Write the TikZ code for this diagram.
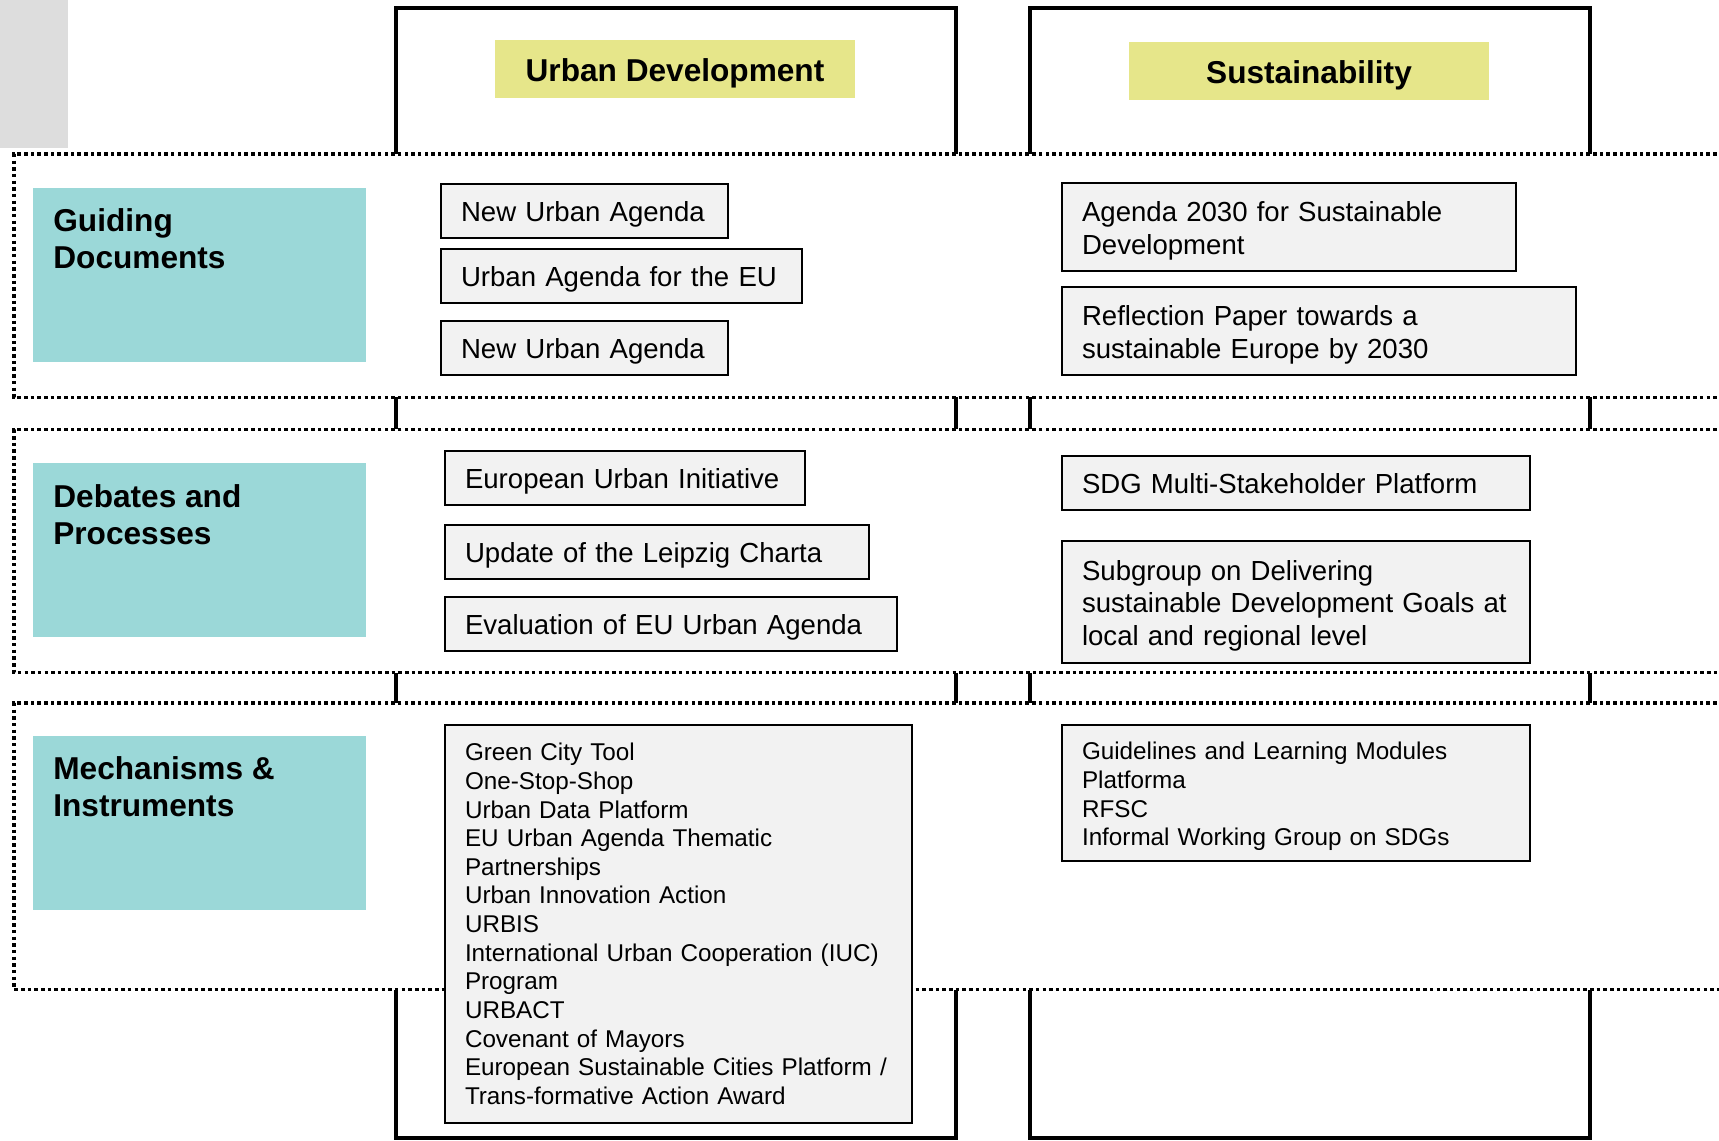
\documentclass[tikz,border=0pt]{standalone}
\usepackage{fontspec}
\setmainfont{Liberation Sans}
\usetikzlibrary{positioning}

\definecolor{rowteal}{RGB}{155,216,216}
\definecolor{headyellow}{RGB}{230,230,138}
\definecolor{itemgray}{RGB}{242,242,242}
\definecolor{cornergray}{RGB}{221,221,221}

\begin{document}
\begin{tikzpicture}[x=0.02cm, y=-0.02cm,
  colframe/.style={draw, line width=2.3pt, anchor=north west, minimum width=11.2cm, minimum height=22.6cm, inner sep=0, outer sep=0pt},
  band/.style={draw, fill=white, line width=2pt, dash pattern=on 2pt off 1.8pt},
  colhead/.style={fill=headyellow, minimum width=7.22cm, minimum height=1.16cm, text height=17.5pt, font=\bfseries\fontsize{18}{21}\selectfont},
  rowhead/.style={fill=rowteal, anchor=north west, minimum width=6.66cm, minimum height=3.48cm},
  rowtext/.style={anchor=north west, align=left, inner sep=0, font=\bfseries\fontsize{18}{21.2}\selectfont},
  itembox/.style={draw, line width=1.1pt, fill=itemgray, anchor=north west, align=left, inner xsep=0.4cm, outer sep=0pt, text width=#1},
  plainitem/.style={itembox=#1, minimum height=1.08cm, text height=15.7pt, font=\fontsize{15.7}{18.6}\selectfont},
  listitem/.style={itembox=#1, font=\fontsize{13.8}{16.3}\selectfont}]
\useasboundingbox (0,0) rectangle (1719,1141);
\clip (0,0) rectangle (1719,1141);

% corner
\fill[cornergray] (0,0) rectangle (68,148);

% columns
\node[colframe] (urbancol) at (396,8) {};
\node[colframe] (sustcol) at (1030,8) {};
\node[colhead] (urbanhead) at (675,69.5) {Urban Development};
\node[colhead] (susthead) at (1309,71.5) {Sustainability};

% rows
\draw[band] (1730,154) -| (14,397.5) -- (1730,397.5);
\draw[band] (1730,429.5) -| (14,672.5) -- (1730,672.5);
\draw[band] (1730,703) -| (14,989.5) -- (1730,989.5);

\node[rowhead] (guide) at (33,188) {};
\node[rowtext, below right=0.4cm and 0.4cm of guide.north west] (guidetext) {Guiding\\Documents};
\node[rowhead] (debate) at (33,463) {};
\node[rowtext, below right=0.42cm and 0.4cm of debate.north west] (debatetext) {Debates and\\Processes};
\node[rowhead] (mech) at (33,736) {};
\node[rowtext, below right=0.4cm and 0.4cm of mech.north west] (mechtext) {Mechanisms \&\\Instruments};

% urban development
\node[plainitem=4.94cm] (nua) at (441,184) {New Urban Agenda};
\node[plainitem=6.42cm] (uaeu) at (441,249) {Urban Agenda for the EU};
\node[plainitem=4.94cm] (nuatwo) at (441,321) {New Urban Agenda};
\node[plainitem=6.4cm] (eui) at (445,451) {European Urban Initiative};
\node[plainitem=7.68cm] (leipzig) at (445,525) {Update of the Leipzig Charta};
\node[plainitem=8.24cm] (evalua) at (445,597) {Evaluation of EU Urban Agenda};
\node[listitem=8.54cm, minimum height=7.96cm] (urbantools) at (445,725) {Green City Tool\\One-Stop-Shop\\Urban Data Platform\\EU Urban Agenda Thematic\\Partnerships\\Urban Innovation Action\\URBIS\\International Urban Cooperation (IUC)\\Program\\URBACT\\Covenant of Mayors\\European Sustainable Cities Platform /\\Trans-formative Action Award};

% sustainability
\node[plainitem=8.28cm, minimum height=1.76cm] (agenda) at (1062,183) {Agenda 2030 for Sustainable\\Development};
\node[plainitem=9.48cm, minimum height=1.76cm] (reflect) at (1062,287) {Reflection Paper towards a\\sustainable Europe by 2030};
\node[plainitem=8.56cm, text depth=3.3pt] (sdg) at (1062,456) {SDG Multi-Stakeholder Platform};
\node[plainitem=8.56cm, minimum height=2.44cm] (subgroup) at (1062,541) {Subgroup on Delivering\\sustainable Development Goals at\\local and regional level};
\node[listitem=8.56cm, minimum height=2.72cm, text height=14pt] (sdgtools) at (1062,725) {Guidelines and Learning Modules\\Platforma\\RFSC\\Informal Working Group on SDGs};
\end{tikzpicture}
\end{document}
